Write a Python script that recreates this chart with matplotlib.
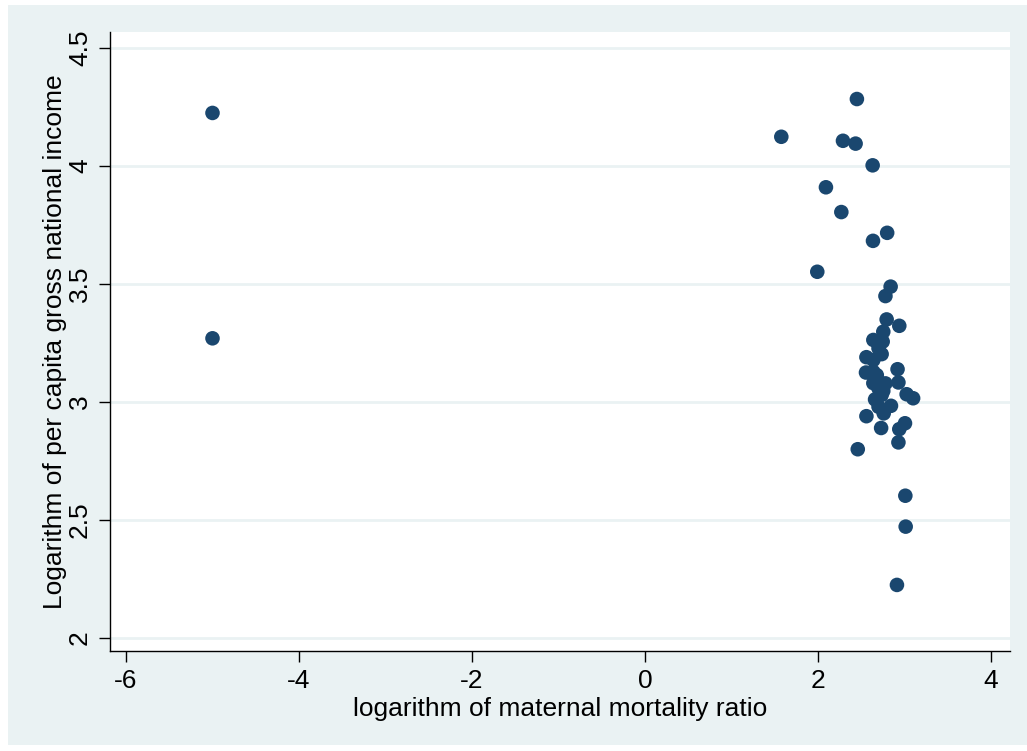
import matplotlib.pyplot as plt
from matplotlib.patches import Rectangle

# log maternal mortality ratio vs log per capita GNI
log_mmr = [-5.0, -5.0, 2.45, 1.576, 2.289, 2.435, 2.632, 2.092, 2.27, 2.80,
           2.636, 1.992, 2.84, 2.78, 2.794, 2.94, 2.755, 2.64, 2.748, 2.70,
           2.56, 2.736, 2.64, 2.92, 2.555, 2.64, 2.68, 2.68, 2.64, 2.78,
           2.93, 2.70, 2.755, 2.736, 3.025, 3.10, 2.66, 2.70, 2.844, 2.76,
           2.56, 3.006, 2.94, 2.73, 2.93, 2.46, 3.01, 3.014, 2.913]
log_gni = [4.225, 3.27, 4.284, 4.124, 4.107, 4.095, 4.003, 3.910, 3.805, 3.717,
           3.683, 3.552, 3.489, 3.449, 3.35, 3.323, 3.298, 3.263, 3.256, 3.228,
           3.19, 3.203, 3.178, 3.139, 3.125, 3.128, 3.114, 3.093, 3.08, 3.079,
           3.083, 3.058, 3.047, 3.03, 3.033, 3.016, 3.011, 2.98, 2.984, 2.952,
           2.94, 2.91, 2.885, 2.89, 2.829, 2.80, 2.603, 2.472, 2.225]

xticks = [-6, -4, -2, 0, 2, 4]
yticks = [2, 2.5, 3, 3.5, 4, 4.5]
ytick_labels = ['2', '2.5', '3', '3.5', '4', '4.5']

bg = '#EAF2F3'
navy = '#1A476F'

plt.rcParams['font.family'] = ['Liberation Sans', 'DejaVu Sans']
plt.rcParams['axes.unicode_minus'] = False

fig = plt.figure(figsize=(10.27, 7.51), dpi=100, facecolor='white')
# graph region background (stata style)
fig.patches.append(Rectangle((8 / 1027, 0.008), 1 - 8 / 1027, 1 - 0.008 - 5 / 751,
                             transform=fig.transFigure, facecolor=bg,
                             edgecolor='none', zorder=-1))

ax = fig.add_axes([110 / 1027, 100 / 751, 900 / 1027, 619 / 751])
ax.set_facecolor('white')

for yv in yticks:
    ax.axhline(yv, color=bg, linewidth=2, zorder=1)

ax.scatter(log_mmr, log_gni, s=110, color=navy, edgecolors='none', zorder=3)

ax.set_xlim(-6.185, 4.22)
ax.set_ylim(1.945, 4.568)
ax.set_xticks(xticks)
ax.set_yticks(yticks)
ax.set_yticklabels(ytick_labels, rotation=90, va='center')

for s in ['top', 'right']:
    ax.spines[s].set_visible(False)
for s in ['left', 'bottom']:
    ax.spines[s].set_linewidth(1.0)
ax.tick_params(direction='out', length=8, width=1, labelsize=19, pad=5)

ax.set_xlabel('logarithm of maternal mortality ratio', fontsize=19, labelpad=3)
ax.set_ylabel('Logarithm of per capita gross national income', fontsize=19,
              labelpad=1)

fig.savefig('out.png', dpi=100, facecolor='white')
